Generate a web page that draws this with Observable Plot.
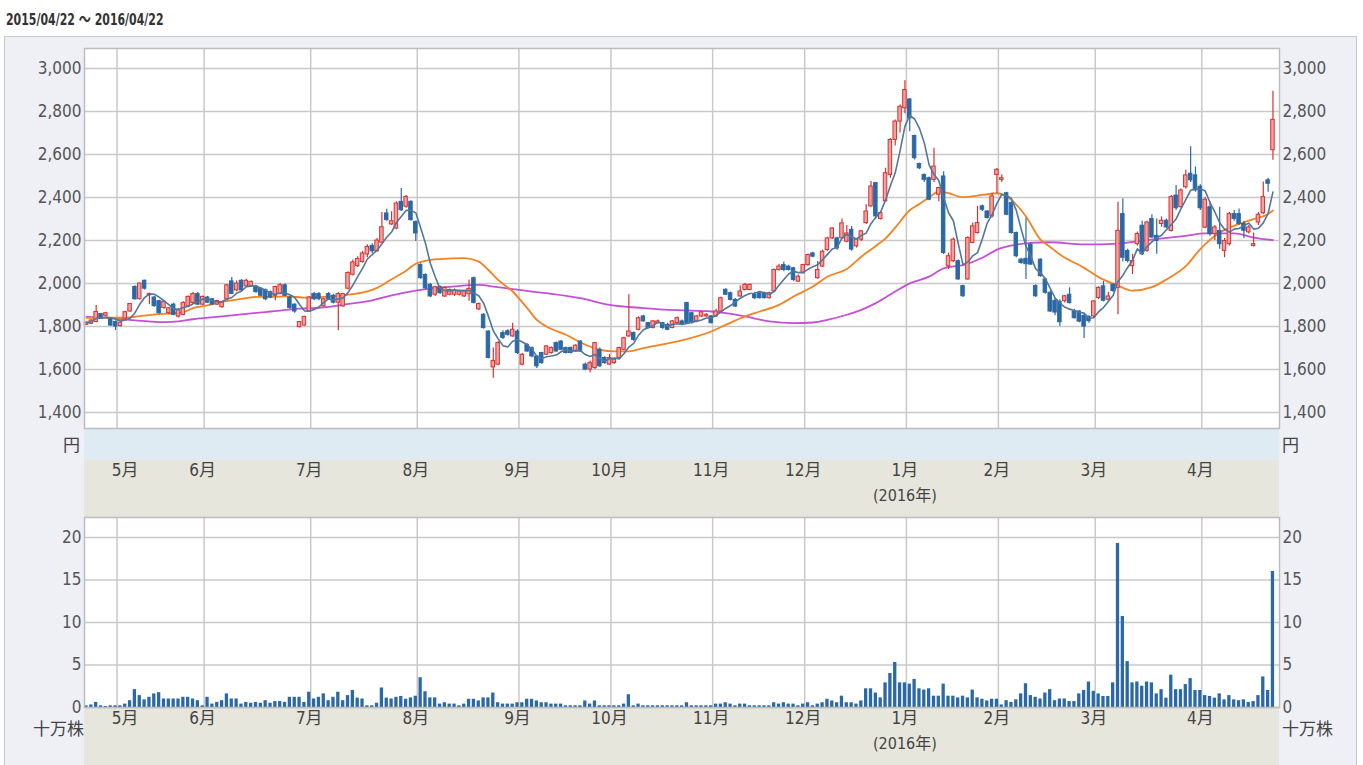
<!DOCTYPE html>
<html><head><meta charset="utf-8">
<script src="https://cdn.jsdelivr.net/npm/d3@7"></script>
<script src="https://cdn.jsdelivr.net/npm/@observablehq/plot@0.6"></script>
<style>
html,body{margin:0;padding:0;background:#fff;}
#wrap{position:relative;width:1363px;height:765px;overflow:hidden;font-family:"Liberation Sans Narrow","DejaVu Sans Condensed","Noto Sans CJK JP",sans-serif;color:#444;}
.abs{position:absolute;}
#title{left:6px;top:6px;font-size:16px;font-weight:bold;color:#333;white-space:nowrap;transform:scaleX(0.76);transform-origin:0 0;}
#panel{left:4px;top:36px;width:1353px;height:760px;background:#eef0f5;border:1px solid #c8c8c8;box-sizing:border-box;}
.band{left:84px;width:1195px;}
#blue{top:428px;height:32px;background:#deebf3;}
#beige1{top:460px;height:57px;background:#e6e6dc;}
#beige2{top:707px;height:70px;background:#e6e6dc;}
.unit{font-family:"Noto Sans CJK JP",sans-serif;font-size:17px;color:#444;line-height:20px;white-space:nowrap;}
#price{left:0;top:48px;}
#vol{left:0;top:517px;}
svg{display:block;}
</style></head><body>
<div id="wrap">
  <div class="abs" id="title">2015/04/22 ～ 2016/04/22</div>
  <div class="abs" id="panel"></div>
  <div class="abs band" id="blue"></div>
  <div class="abs band" id="beige1"></div>
  <div class="abs band" id="beige2"></div>
  <div class="abs" id="price"></div>
  <div class="abs" id="vol"></div>
  <div class="abs unit" style="left:63px;top:434px;">円</div>
  <div class="abs unit" style="left:1282px;top:434px;">円</div>
  <div class="abs unit" style="left:33px;top:718px;">十万株</div>
  <div class="abs unit" style="left:1282px;top:718px;">十万株</div>
</div>
<script>
// ---- data (index = trading day from 2015/04/22 to 2016/04/22) ----
const opens = [
1808,1813,1821,1858,1850,1834,1822,1802,1837,1870,
1984,1927,2013,1945,1935,1918,1886,1862,1902,1846,
1854,1894,1910,1951,1902,1935,1927,1902,1890,1927,
2010,1968,2013,1987,1987,1984,1976,1968,1960,1943,
1951,1992,1935,1902,1797,1805,1870,1951,1951,1894,
1951,1943,1911,1894,1976,2041,2081,2100,2135,2175,
2150,2190,2326,2275,2256,2380,2357,2380,2287,2086,
2040,1994,1948,1983,1940,1948,1948,1948,1940,1950,
2025,1880,1855,1777,1610,1623,1770,1778,1754,1777,
1623,1715,1700,1661,1677,1669,1677,1723,1730,1700,
1700,1684,1730,1623,1600,1607,1692,1654,1623,1630,
1654,1692,1754,1770,1785,1847,1816,1793,1816,1816,
1808,1793,1816,1824,1909,1862,1824,1847,1847,1847,
1847,1870,1971,1955,1924,1940,1970,1970,1947,1955,
1955,1932,1963,2063,2086,2079,2071,2009,2048,2086,
2140,2025,2079,2156,2210,2210,2210,2195,2250,2173,
2204,2281,2359,2467,2300,2382,2505,2668,2753,2815,
2856,2686,2556,2505,2490,2482,2413,2498,2080,2104,
2104,1988,2019,2189,2235,2359,2335,2312,2505,2482,
2420,2374,2235,2111,2115,2181,1988,2111,2019,1957,
1920,1915,1918,1948,1870,1870,1850,1845,1847,1933,
1987,1925,1995,1980,2323,2151,2081,2183,2269,2152,
2300,2222,2277,2292,2245,2409,2355,2448,2511,2503,
2450,2260,2355,2230,2245,2152,2183,2323,2323,2277,
2238,2175,2284,2327,2480,2620];
const highs = [
1822,1833,1898,1862,1866,1838,1826,1822,1870,1908,
1990,2003,2016,1955,1940,1922,1918,1888,1908,1882,
1915,1942,1958,1958,1942,1940,1930,1922,1915,1995,
2028,2012,2018,2020,2012,1988,1980,1975,1965,1988,
2000,1998,1940,1906,1824,1848,1940,1960,1958,1932,
1958,1950,1958,1955,2055,2110,2125,2150,2180,2185,
2210,2330,2345,2334,2380,2442,2410,2385,2290,2092,
2045,2000,1988,1990,1985,1975,1975,1970,1968,2017,
2030,1910,1860,1780,1700,1730,1780,1785,1815,1785,
1675,1720,1705,1665,1680,1712,1705,1728,1735,1705,
1705,1715,1735,1630,1640,1727,1700,1660,1670,1650,
1705,1750,1948,1775,1845,1852,1820,1828,1830,1820,
1815,1828,1845,1830,1913,1866,1850,1870,1860,1852,
1880,1936,1976,1960,1930,1990,2000,1998,1960,1962,
1960,1960,2068,2090,2100,2085,2075,2040,2090,2138,
2145,2102,2155,2215,2260,2215,2300,2270,2265,2210,
2245,2366,2474,2470,2335,2536,2675,2760,2830,2943,
2860,2690,2560,2510,2495,2629,2448,2520,2142,2212,
2110,1992,2218,2281,2359,2365,2340,2420,2535,2505,
2425,2380,2240,2118,2304,2190,1995,2115,2025,1965,
1930,1925,1945,1980,1880,1875,1860,1850,1920,1985,
2010,1960,2000,2378,2394,2160,2136,2240,2290,2290,
2320,2300,2310,2300,2410,2456,2440,2527,2636,2542,
2460,2400,2380,2270,2355,2210,2330,2340,2347,2290,
2270,2235,2330,2472,2490,2894];
const lows = [
1805,1810,1818,1838,1846,1800,1782,1798,1833,1866,
1922,1924,1970,1902,1890,1858,1880,1855,1850,1840,
1850,1890,1905,1898,1898,1908,1898,1898,1885,1922,
1948,1962,1965,1982,1983,1955,1940,1920,1930,1920,
1948,1940,1880,1862,1794,1802,1865,1920,1920,1890,
1922,1905,1780,1890,1970,2035,2075,2095,2120,2140,
2145,2185,2290,2270,2250,2335,2350,2290,2195,2020,
1970,1935,1940,1950,1935,1943,1940,1942,1935,1918,
1905,1875,1788,1650,1560,1618,1740,1755,1750,1670,
1618,1680,1655,1605,1625,1665,1672,1680,1688,1672,
1672,1680,1680,1595,1585,1600,1610,1625,1620,1625,
1648,1688,1750,1732,1780,1820,1790,1790,1812,1788,
1780,1790,1812,1805,1810,1812,1818,1842,1843,1812,
1842,1865,1945,1920,1890,1936,1965,1966,1925,1928,
1928,1928,1958,2058,2055,2058,2010,2005,2045,2080,
2120,2020,2075,2150,2205,2155,2205,2190,2150,2165,
2195,2275,2355,2300,2295,2378,2490,2640,2700,2790,
2706,2575,2530,2470,2385,2470,2380,2135,2065,2098,
2015,1935,2015,2185,2230,2335,2300,2305,2420,2470,
2315,2230,2120,2090,2019,2085,1935,2030,1950,1865,
1850,1800,1910,1905,1835,1818,1745,1815,1840,1925,
1915,1915,1960,1855,2100,2095,2042,2175,2130,2145,
2210,2136,2262,2255,2240,2340,2350,2440,2470,2425,
2340,2255,2220,2200,2160,2120,2175,2290,2270,2210,
2230,2170,2270,2320,2425,2573];
const closes = [
1818,1828,1868,1842,1862,1805,1800,1818,1867,1905,
1927,2000,1976,1952,1895,1862,1915,1885,1854,1878,
1910,1938,1951,1902,1938,1911,1902,1919,1911,1992,
1952,2000,1968,2013,2008,1960,1943,1927,1935,1984,
1992,1943,1886,1870,1821,1845,1935,1927,1927,1927,
1927,1911,1951,1951,2049,2098,2114,2140,2170,2150,
2200,2262,2295,2290,2372,2341,2403,2295,2233,2025,
1978,1940,1983,1955,1980,1970,1967,1963,1963,1975,
1910,1905,1793,1654,1640,1723,1747,1762,1785,1677,
1669,1684,1661,1615,1630,1708,1700,1684,1692,1677,
1677,1711,1684,1600,1630,1723,1615,1630,1654,1646,
1700,1746,1777,1738,1839,1824,1793,1824,1824,1793,
1785,1824,1839,1808,1816,1816,1847,1866,1855,1816,
1870,1932,1948,1924,1893,1963,1994,1994,1932,1932,
1932,1955,2063,2079,2063,2063,2017,2032,2086,2133,
2125,2063,2148,2210,2256,2163,2280,2233,2158,2204,
2243,2335,2451,2312,2328,2513,2668,2753,2822,2900,
2768,2583,2536,2482,2390,2544,2444,2142,2127,2204,
2019,1941,2212,2266,2281,2343,2305,2405,2529,2490,
2320,2235,2127,2096,2090,2088,1941,2034,1957,1870,
1865,1820,1941,1909,1839,1823,1800,1825,1917,1980,
1920,1940,1965,2245,2120,2105,2105,2230,2136,2284,
2214,2198,2292,2261,2402,2350,2433,2503,2480,2433,
2350,2390,2230,2261,2183,2198,2323,2300,2277,2245,
2261,2183,2320,2402,2464,2761];
// volume, 十万株
const volumes = [
0.2,0.3,0.6,0.2,0.12,0.2,0.2,0.2,0.4,0.8,
2.1,1.4,0.9,1.2,1.6,1.75,1.0,1.0,1.0,1.0,
1.2,1.2,1.0,0.8,0.2,1.2,0.4,0.6,0.8,1.6,
1.0,1.0,0.4,0.6,0.5,0.6,0.5,0.8,0.5,0.7,
0.7,0.6,1.2,1.2,1.2,0.6,1.8,1.0,1.2,1.6,
0.8,1.2,1.8,0.8,1.4,2.0,1.1,1.0,0.2,0.2,
0.5,2.3,1.1,1.0,1.2,1.3,0.97,1.13,1.33,3.5,
1.85,1.13,1.13,0.4,0.56,0.4,0.4,0.2,0.4,0.97,
0.97,0.77,1.13,1.13,1.7,0.56,0.4,0.4,0.4,0.56,
0.56,0.97,0.97,0.77,0.56,0.56,0.4,0.4,0.4,0.2,
0.2,0.2,0.2,0.77,0.4,0.77,0.2,0.2,0.2,0.2,
0.2,0.4,1.5,0.2,0.4,0.2,0.2,0.2,0.2,0.2,
0.2,0.2,0.2,0.2,0.56,0.2,0.2,0.2,0.2,0.2,
0.4,0.4,0.56,0.4,0.2,0.4,0.4,0.2,0.2,0.2,
0.2,0.2,0.56,0.4,0.56,0.4,0.4,0.2,0.4,0.56,
0.2,0.4,0.56,0.97,0.77,0.56,1.33,0.56,0.56,0.4,
0.77,2.2,2.2,1.7,1.13,2.9,4.0,5.3,2.9,2.9,
2.75,3.3,2.2,2.05,2.2,1.33,1.33,2.75,1.33,1.33,
1.13,1.33,1.13,2.05,1.13,0.97,0.77,0.97,0.97,0.3,
0.8,0.6,0.9,1.6,2.8,1.4,1.2,1.0,1.7,2.1,
0.8,1.0,1.0,0.7,0.7,1.6,2.0,3.0,1.9,1.6,
1.3,1.3,2.9,19.3,10.7,5.4,2.9,3.0,2.5,3.0,
2.9,1.6,2.1,1.1,3.8,2.1,2.1,2.7,3.4,2.0,
2.0,1.4,1.3,1.1,1.6,0.9,1.4,0.9,0.8,0.9,
0.6,0.7,1.4,3.6,2.0,16.0];
// 25-day moving average
const ma25Idx = [0,8,11,14,18,20,22,25,27,30,33,35,38,42,45,49,52,55,58,60,63,66,68,70,73,78,81,83,85,88,91,93,95,99,103,106,109,112,115,122,129,132,136,139,143,146,150,153,157,160,163,165,167,170,172,174,176,178,181,185,188,190,194,197,199,201,206,209,213,216,220,223,227,230,234,238,241,244,245];
const ma25Val = [1841,1841,1849,1856,1862,1867,1886,1899,1911,1922,1932,1938,1938,1940,1935,1938,1943,1951,1964,1980,2020,2060,2092,2106,2114,2118,2102,2063,2017,1963,1886,1831,1800,1762,1716,1692,1685,1685,1700,1731,1777,1808,1847,1870,1901,1940,1986,2032,2068,2125,2175,2210,2260,2341,2370,2400,2428,2420,2402,2412,2420,2405,2312,2204,2170,2135,2073,2030,1990,1967,1983,2019,2081,2160,2237,2277,2300,2323,2340];
// 75-day moving average
const ma75Idx = [0,4,10,16,19,22,27,33,38,44,49,53,59,63,68,71,74,81,84,88,95,102,108,115,122,129,132,136,141,146,150,153,157,160,163,167,170,174,177,181,185,188,192,195,199,206,213,219,227,231,237,241,245];
const ma75Val = [1845,1841,1829,1821,1824,1834,1845,1859,1870,1883,1889,1902,1922,1945,1967,1978,1983,1994,1986,1974,1955,1932,1901,1886,1876,1870,1862,1847,1824,1816,1819,1831,1855,1878,1909,1963,2001,2032,2071,2086,2120,2158,2181,2189,2192,2182,2186,2202,2222,2233,2233,2214,2202];
// month ticks
const monthIdx = [6,24,46,68,89,108,129,148,169,188,208,230];
const monthLabelIdx = [8,24,46,68,89,108,129,148,169,188,208,230];
const monthLabels = ["5月","6月","7月","8月","9月","10月","11月","12月","1月","2月","3月","4月"];
const yearLabels = ["(2016年)"];
const yearIdx = [169];
const priceTicks = [1400,1600,1800,2000,2200,2400,2600,2800,3000];
const volTicks = [0,5,10,15,20];

// ---- chart ----
const FONT = '"Liberation Sans Narrow","DejaVu Sans Condensed","Noto Sans CJK JP",sans-serif';
const RED = "#d7312f", RED_FILL = "#f2a2a2", BLUE = "#2b68a6", GRID = "#c9c9c9";
const XDOM = [-0.41, 246.35];
const GSHIFT = 0.3;

const candles = closes.map((c, i) => ({i, o: opens[i], h: highs[i], l: lows[i], c}));
const ups = candles.filter(d => d.c >= d.o);
const downs = candles.filter(d => d.c < d.o);
const ma25 = ma25Idx.map((i, k) => ({i, v: ma25Val[k]}));
const ma75 = ma75Idx.map((i, k) => ({i, v: ma75Val[k]}));
const fmt = d3.format(",");

const price = Plot.plot({
  width: 1363, height: 469,
  marginLeft: 84, marginRight: 84, marginTop: 0, marginBottom: 89,
  style: {background: "transparent", fontFamily: FONT, fontSize: "17px", color: "#555", overflow: "visible"},
  x: {domain: XDOM, axis: null, label: null},
  y: {domain: [1326, 3093], axis: null, label: null},
  marks: [
    Plot.frame({fill: "white"}),
    Plot.ruleY(priceTicks, {stroke: GRID, strokeWidth: 1.5}),
    Plot.ruleX(monthIdx, {x: d => d + GSHIFT, stroke: GRID, strokeWidth: 1.5}),
    Plot.line(ma75, {x: "i", y: "v", stroke: "#c54fd8", strokeWidth: 1.8, curve: "monotone-x"}),
    Plot.line(ma25, {x: "i", y: "v", stroke: "#f5821f", strokeWidth: 1.8, curve: "monotone-x"}),
    Plot.ruleX(ups, {x: "i", y1: "l", y2: "h", stroke: RED, strokeWidth: 1.2}),
    Plot.ruleX(downs, {x: "i", y1: "l", y2: "h", stroke: BLUE, strokeWidth: 1.2}),
    Plot.rect(ups, {x1: d => d.i - 0.36, x2: d => d.i + 0.36, y1: "o", y2: "c", fill: RED_FILL, stroke: RED, strokeWidth: 1}),
    Plot.rect(downs, {x1: d => d.i - 0.36, x2: d => d.i + 0.36, y1: "o", y2: "c", fill: BLUE, stroke: BLUE, strokeWidth: 1}),
    Plot.lineY(candles, Plot.windowY({k: 5, anchor: "end"}, {x: "i", y: "c", stroke: "#52769c", strokeWidth: 1.6})),
    Plot.frame({stroke: "#bdbdbd", strokeWidth: 1.5}),
    Plot.axisY(priceTicks, {anchor: "left", label: null, tickSize: 0, tickPadding: 3, tickFormat: fmt, fill: "#555"}),
    Plot.axisY(priceTicks, {anchor: "right", label: null, tickSize: 0, tickPadding: 3, tickFormat: fmt, fill: "#555"}),
    Plot.text(monthLabels, {x: (d, k) => monthLabelIdx[k], text: d => d, frameAnchor: "bottom", dy: 47, fontSize: 17, fill: "#444"}),
    Plot.text(yearLabels, {x: (d, k) => yearIdx[k], text: d => d, frameAnchor: "bottom", dy: 72, fontSize: 16, fill: "#444"})
  ]
});
document.getElementById("price").appendChild(price);

const vdata = volumes.map((v, i) => ({i, v}));
const vol = Plot.plot({
  width: 1363, height: 248,
  marginLeft: 84, marginRight: 84, marginTop: 0, marginBottom: 58,
  style: {background: "transparent", fontFamily: FONT, fontSize: "17px", color: "#555", overflow: "visible"},
  x: {domain: XDOM, axis: null, label: null},
  y: {domain: [0, 22.35], axis: null, label: null},
  marks: [
    Plot.frame({fill: "white"}),
    Plot.ruleY(volTicks, {stroke: GRID, strokeWidth: 1.5}),
    Plot.ruleX(monthIdx, {x: d => d + GSHIFT, stroke: GRID, strokeWidth: 1.5}),
    Plot.rect(vdata, {x1: d => d.i - 0.34, x2: d => d.i + 0.34, y1: 0, y2: "v", fill: BLUE}),
    Plot.frame({stroke: "#bdbdbd", strokeWidth: 1.5}),
    Plot.axisY(volTicks, {anchor: "left", label: null, tickSize: 0, tickPadding: 3, fill: "#555"}),
    Plot.axisY(volTicks, {anchor: "right", label: null, tickSize: 0, tickPadding: 3, fill: "#555"}),
    Plot.text(monthLabels, {x: (d, k) => monthLabelIdx[k], text: d => d, frameAnchor: "bottom", dy: 16, fontSize: 17, fill: "#444"}),
    Plot.text(yearLabels, {x: (d, k) => yearIdx[k], text: d => d, frameAnchor: "bottom", dy: 41, fontSize: 16, fill: "#444"})
  ]
});
document.getElementById("vol").appendChild(vol);
</script>
</body></html>
